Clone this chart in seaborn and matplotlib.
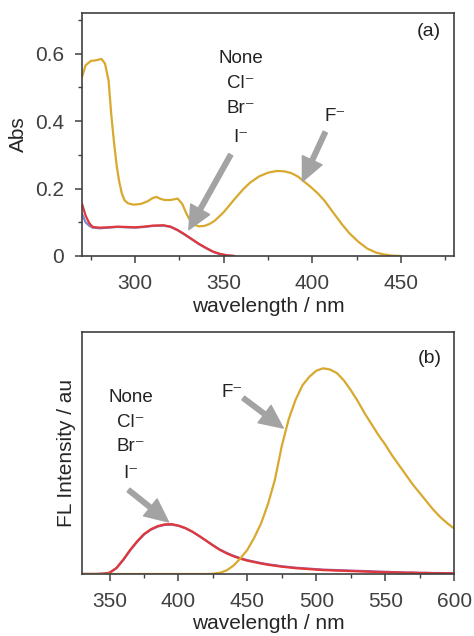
import numpy as np
import pandas as pd
import seaborn as sns
from matplotlib import pyplot as plt
from matplotlib.ticker import MultipleLocator

# panel (a): absorbance
abs_wl_f = [270, 272, 275, 278, 281, 283, 285, 286.5, 288, 289.5, 291, 292.5, 294, 296, 299, 303, 307,
            310, 312, 314, 316.5, 320, 324, 326.5, 329, 331, 333.5, 336, 339, 342, 345, 350, 356, 361,
            365, 370, 375, 380, 384, 388, 392, 395, 399, 403, 407, 412, 417, 421, 426, 431, 436, 440, 445, 450]
abs_f = [0.53, 0.565, 0.578, 0.58, 0.584, 0.57, 0.52, 0.42, 0.34, 0.27, 0.22, 0.185, 0.165, 0.156, 0.152, 0.154, 0.162,
         0.172, 0.175, 0.17, 0.166, 0.166, 0.17, 0.155, 0.125, 0.105, 0.092, 0.088, 0.089, 0.095, 0.105, 0.13, 0.168, 0.198,
         0.218, 0.236, 0.247, 0.252, 0.251, 0.246, 0.235, 0.222, 0.205, 0.186, 0.163, 0.127, 0.092, 0.067, 0.042, 0.022, 0.01, 0.005, 0.001, 0.0]
abs_wl_x = [270, 272, 274, 276, 280, 285, 290, 295, 300, 305, 310, 316, 320, 324, 328, 332, 336, 340, 344, 348, 352, 356]
abs_none = [0.155, 0.12, 0.098, 0.086, 0.084, 0.085, 0.087, 0.086, 0.085, 0.087, 0.09, 0.091, 0.087, 0.077, 0.064, 0.05, 0.036, 0.024, 0.013, 0.006, 0.002, 0.0]
abs_cl = [0.125, 0.1, 0.09, 0.084, 0.082, 0.084, 0.086, 0.085, 0.084, 0.086, 0.089, 0.09, 0.086, 0.076, 0.063, 0.049, 0.035, 0.023, 0.012, 0.005, 0.001, 0.0]

# panel (b): fluorescence
fl_wl = [330, 340, 345, 350, 355, 360, 365, 370, 375, 380, 385, 390, 395, 400, 405, 410, 415, 420, 425, 430,
         435, 440, 445, 450, 455, 460, 465, 470, 475, 480, 485, 490, 495, 500, 505, 510, 515, 520, 525, 530,
         535, 540, 545, 550, 555, 560, 565, 570, 575, 580, 585, 590, 595, 600]
fl_none = [0.0, 0.0, 0.001, 0.005, 0.025, 0.06, 0.1, 0.135, 0.165, 0.185, 0.198, 0.205, 0.206, 0.2, 0.19, 0.175, 0.157, 0.138, 0.118, 0.1,
           0.085, 0.073, 0.063, 0.055, 0.049, 0.043, 0.038, 0.034, 0.03, 0.027, 0.024, 0.022, 0.02, 0.018, 0.016, 0.015, 0.014, 0.013, 0.012, 0.011,
           0.01, 0.009, 0.008, 0.007, 0.007, 0.006, 0.005, 0.005, 0.004, 0.004, 0.003, 0.003, 0.003, 0.003]
fl_cl = [0.0, 0.0, 0.001, 0.005, 0.024, 0.058, 0.098, 0.133, 0.163, 0.183, 0.196, 0.203, 0.204, 0.199, 0.189, 0.175, 0.157, 0.138, 0.119, 0.101,
         0.087, 0.075, 0.065, 0.057, 0.051, 0.045, 0.04, 0.036, 0.032, 0.029, 0.026, 0.024, 0.022, 0.02, 0.018, 0.017, 0.016, 0.015, 0.014, 0.013,
         0.012, 0.011, 0.01, 0.009, 0.008, 0.007, 0.006, 0.006, 0.005, 0.005, 0.004, 0.004, 0.003, 0.003]
fl_f = [0.0, 0.0, 0.0, 0.0, 0.0, 0.0, 0.0, 0.0, 0.0, 0.0, 0.0, 0.0, 0.0, 0.0, 0.0, 0.0, 0.0, 0.0, 0.001, 0.005,
        0.015, 0.035, 0.065, 0.1, 0.15, 0.21, 0.29, 0.39, 0.53, 0.64, 0.72, 0.78, 0.815, 0.84, 0.85, 0.845, 0.83, 0.8, 0.76, 0.715,
        0.665, 0.62, 0.575, 0.535, 0.49, 0.45, 0.41, 0.37, 0.335, 0.3, 0.265, 0.235, 0.21, 0.188]

ion_labels = ["None", "Cl\u207b", "Br\u207b", "I\u207b"]
ion_y_a = [0.585, 0.51, 0.436, 0.352]
ion_y_b = [0.731, 0.628, 0.525, 0.417]

gold = "#d8a92e"
red = "#e0383a"
blue = "#7d86d0"
purple = "#9a5fa8"
gray = "#a3a3a3"

sns.set_style("ticks")
plt.rcParams['font.family'] = ['Liberation Sans', 'DejaVu Sans']
plt.rcParams['axes.edgecolor'] = '#404040'
plt.rcParams['xtick.color'] = '#404040'
plt.rcParams['ytick.color'] = '#404040'
plt.rcParams['text.color'] = '#222222'

fig = plt.figure(figsize=(4.74, 6.36), dpi=100)
ax1 = fig.add_axes([0.173, 0.5975, 0.785, 0.382])
ax2 = fig.add_axes([0.173, 0.0975, 0.785, 0.3805])

arrow = dict(arrowstyle="simple,head_length=1.4,head_width=1.3,tail_width=0.28",
             color=gray, mutation_scale=12, shrinkA=0, shrinkB=0)

# --- (a)
sns.lineplot(x=abs_wl_x, y=abs_cl, ax=ax1, color=blue, lw=1.6)
sns.lineplot(x=abs_wl_x, y=abs_none, ax=ax1, color=red, lw=1.6)
sns.lineplot(x=abs_wl_f, y=abs_f, ax=ax1, color=gold, lw=1.6)
ax1.set_xlim(270, 480)
ax1.set_ylim(0, 0.72)
ax1.xaxis.set_major_locator(MultipleLocator(50))
ax1.xaxis.set_minor_locator(MultipleLocator(25))
ax1.yaxis.set_major_locator(MultipleLocator(0.2))
ax1.yaxis.set_minor_locator(MultipleLocator(0.1))
ax1.yaxis.set_major_formatter(lambda v, p: "0" if v == 0 else f"{v:.1f}")
ax1.set_xlabel("wavelength / nm", fontsize=15, labelpad=3)
ax1.set_ylabel("Abs", fontsize=15, labelpad=5)
for lab, yy in zip(ion_labels, ion_y_a):
    ax1.text(359.6, yy, lab, ha="center", va="center", fontsize=13.5)
ax1.annotate("", xy=(330.3, 0.078), xytext=(353.9, 0.30), arrowprops=arrow)
ax1.text(413, 0.412, "F\u207b", ha="center", va="center", fontsize=13.5)
ax1.annotate("", xy=(394.4, 0.221), xytext=(407.3, 0.367), arrowprops=arrow)
ax1.text(466, 0.666, "(a)", ha="center", va="center", fontsize=14)

# --- (b)
sns.lineplot(x=fl_wl, y=fl_cl, ax=ax2, color=purple, lw=1.6)
sns.lineplot(x=fl_wl, y=fl_none, ax=ax2, color=red, lw=1.6)
sns.lineplot(x=fl_wl, y=fl_f, ax=ax2, color=gold, lw=1.6)
ax2.set_xlim(330, 600)
ax2.set_ylim(0, 1)
ax2.xaxis.set_major_locator(MultipleLocator(50))
ax2.xaxis.set_minor_locator(MultipleLocator(25))
ax2.set_yticks([])
ax2.set_xlabel("wavelength / nm", fontsize=15, labelpad=2)
ax2.set_ylabel("FL Intensity / au", fontsize=15, labelpad=4)
for lab, yy in zip(ion_labels, ion_y_b):
    ax2.text(365.2, yy, lab, ha="center", va="center", fontsize=13.5)
ax2.annotate("", xy=(392.8, 0.215), xytext=(363.8, 0.347), arrowprops=arrow)
ax2.text(439, 0.752, "F\u207b", ha="center", va="center", fontsize=13.5)
ax2.annotate("", xy=(476, 0.603), xytext=(447, 0.727), arrowprops=arrow)
ax2.text(582.6, 0.89, "(b)", ha="center", va="center", fontsize=14)

for ax in (ax1, ax2):
    for s in ax.spines.values():
        s.set_linewidth(1.2)
    ax.tick_params(which="major", length=5, width=1.1, labelsize=15, pad=8)
    ax.tick_params(which="minor", length=3, width=1.0)

fig.savefig("out.png", dpi=100)
